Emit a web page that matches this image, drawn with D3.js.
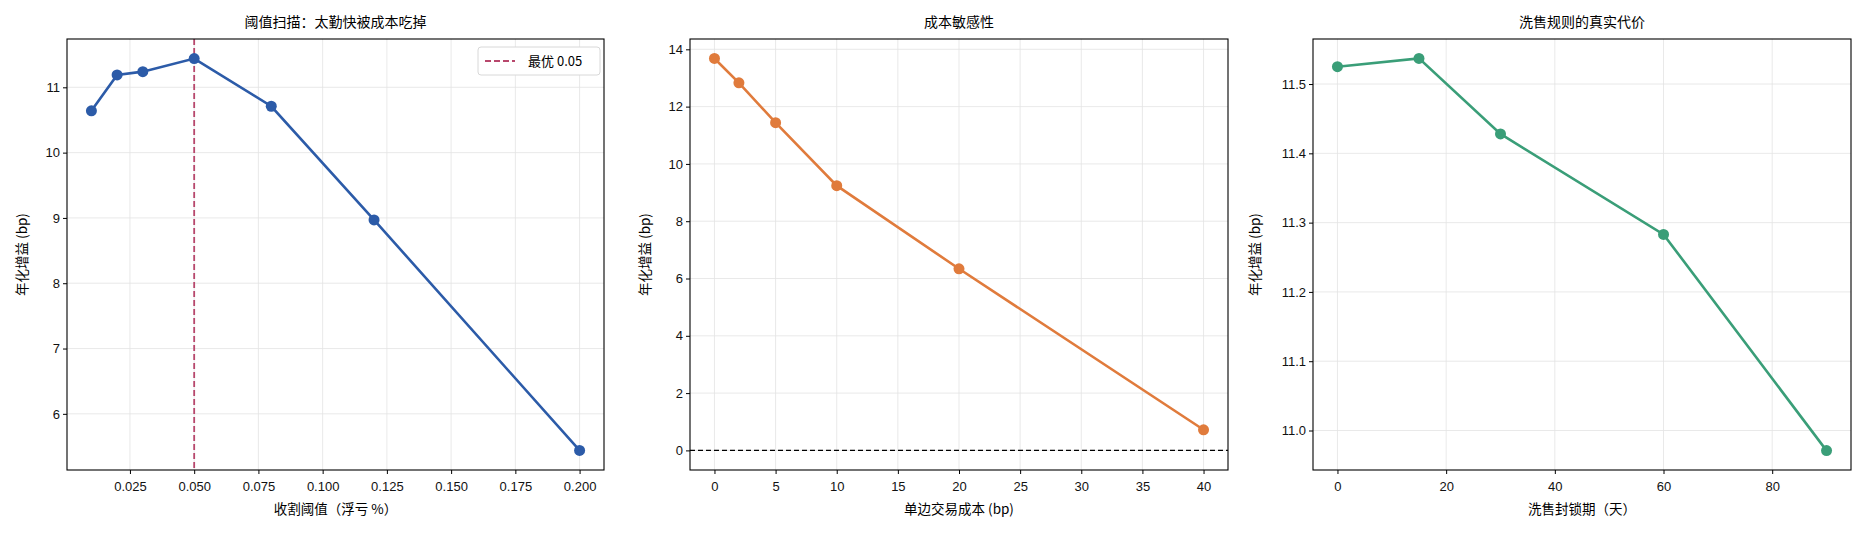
<!DOCTYPE html>
<html><head><meta charset="utf-8">
<script src="https://cdn.jsdelivr.net/npm/d3@7"></script>
<style>body{margin:0;background:#fff}svg{font-family:"Noto Sans CJK SC","Liberation Sans",sans-serif}</style>
</head><body><svg id="c" width="1862" height="537"></svg>
<script>
const thrX=[0.01,0.02,0.03,0.05,0.08,0.12,0.2];
const thrY=[10.64,11.19,11.24,11.44,10.71,8.97,5.44];
const costX=[0,2,5,10,20,40];
const costY=[13.68,12.83,11.44,9.24,6.34,0.72];
const washX=[0,15,30,60,90];
const washY=[11.525,11.537,11.428,11.283,10.971];
const thrTicks=[0.025,0.05,0.075,0.1,0.125,0.15,0.175,0.2];
const best=0.05;

const svg=d3.select("#c");
const pTop=39,pBot=470;
function panel(o){
  const x=d3.scaleLinear().domain(o.xd).range([o.l,o.r]);
  const y=d3.scaleLinear().domain(o.yd).range([pBot,pTop]);
  const g=svg.append("g");
  g.selectAll(".gx").data(o.xt).enter().append("line").attr("x1",d=>x(d)).attr("x2",d=>x(d)).attr("y1",pTop).attr("y2",pBot).attr("stroke","#e3e3e3").attr("stroke-width",0.8);
  g.selectAll(".gy").data(o.yt).enter().append("line").attr("y1",d=>y(d)).attr("y2",d=>y(d)).attr("x1",o.l).attr("x2",o.r).attr("stroke","#e3e3e3").attr("stroke-width",0.8);
  if(o.extra) o.extra(g,x,y);
  const line=d3.line().x((d,i)=>x(o.xs[i])).y(d=>y(d));
  g.append("path").datum(o.ys).attr("d",line).attr("fill","none").attr("stroke",o.c).attr("stroke-width",2.6);
  g.selectAll("circle").data(o.ys).enter().append("circle").attr("cx",(d,i)=>x(o.xs[i])).attr("cy",d=>y(d)).attr("r",5.5).attr("fill",o.c);
  const ax=g.append("g").attr("transform",`translate(0,${pBot})`).call(d3.axisBottom(x).tickValues(o.xt).tickFormat(o.xf).tickSize(4).tickSizeOuter(0));
  const ay=g.append("g").attr("transform",`translate(${o.l},0)`).call(d3.axisLeft(y).tickValues(o.yt).tickFormat(o.yf).tickSize(4).tickSizeOuter(0));
  [ax,ay].forEach(a=>{a.select(".domain").remove();a.selectAll("text").attr("font-size",13).attr("fill","#111").style("font-family","'Liberation Sans',sans-serif");a.selectAll("line").attr("stroke","#000").attr("stroke-width",1);});
  ax.selectAll("text").attr("dy","1.1em");
  g.append("rect").attr("x",o.l).attr("y",pTop).attr("width",o.r-o.l).attr("height",pBot-pTop).attr("fill","none").attr("stroke","#000").attr("stroke-width",1.1);
  g.append("text").attr("x",(o.l+o.r)/2).attr("y",pTop-12).attr("text-anchor","middle").attr("font-size",14).text(o.title);
  g.append("text").attr("x",(o.l+o.r)/2).attr("y",pBot+44).attr("text-anchor","middle").attr("font-size",13.5).text(o.xl);
  g.append("text").attr("transform",`translate(${o.l-o.yo},${(pTop+pBot)/2}) rotate(-90)`).attr("text-anchor","middle").attr("font-size",13.5).text("年化增益 (bp)");
}
panel({l:67,r:604,xd:[0.0005,0.2095],yd:[5.14,11.74],xs:thrX,ys:thrY,c:"#2c5ba8",xt:thrTicks,yt:[6,7,8,9,10,11],xf:d3.format(".3f"),yf:d3.format("d"),
  title:"阈值扫描：太勤快被成本吃掉",xl:"收割阈值（浮亏 %）",yo:40,
  extra:(g,x,y)=>{
    g.append("line").attr("x1",x(best)).attr("x2",x(best)).attr("y1",pTop).attr("y2",pBot).attr("stroke","#b8476c").attr("stroke-width",1.8).attr("stroke-dasharray","6,3");
    const lx=478,ly=47;
    g.append("rect").attr("x",lx).attr("y",ly).attr("width",122).attr("height",28).attr("rx",3).attr("fill","#fff").attr("stroke","#d8d8d8");
    g.append("line").attr("x1",lx+7).attr("x2",lx+37).attr("y1",ly+14).attr("y2",ly+14).attr("stroke","#b8476c").attr("stroke-width",1.8).attr("stroke-dasharray","6,3");
    g.append("text").attr("x",lx+50).attr("y",ly+19).attr("font-size",13).text("最优 "+best.toFixed(2));
  }});
panel({l:690,r:1228,xd:[-2,42],yd:[-0.684,14.36],xs:costX,ys:costY,c:"#e07b3c",xt:[0,5,10,15,20,25,30,35,40],yt:[0,2,4,6,8,10,12,14],xf:d3.format("d"),yf:d3.format("d"),
  title:"成本敏感性",xl:"单边交易成本 (bp)",yo:40,
  extra:(g,x,y)=>{g.append("line").attr("x1",690).attr("x2",1228).attr("y1",y(0)).attr("y2",y(0)).attr("stroke","#000").attr("stroke-width",1.4).attr("stroke-dasharray","5,3");}});
panel({l:1313,r:1851,xd:[-4.5,94.5],yd:[10.943,11.565],xs:washX,ys:washY,c:"#3a9e78",xt:[0,20,40,60,80],yt:[11.0,11.1,11.2,11.3,11.4,11.5],xf:d3.format("d"),yf:d3.format(".1f"),
  title:"洗售规则的真实代价",xl:"洗售封锁期（天）",yo:53});
</script></body></html>
